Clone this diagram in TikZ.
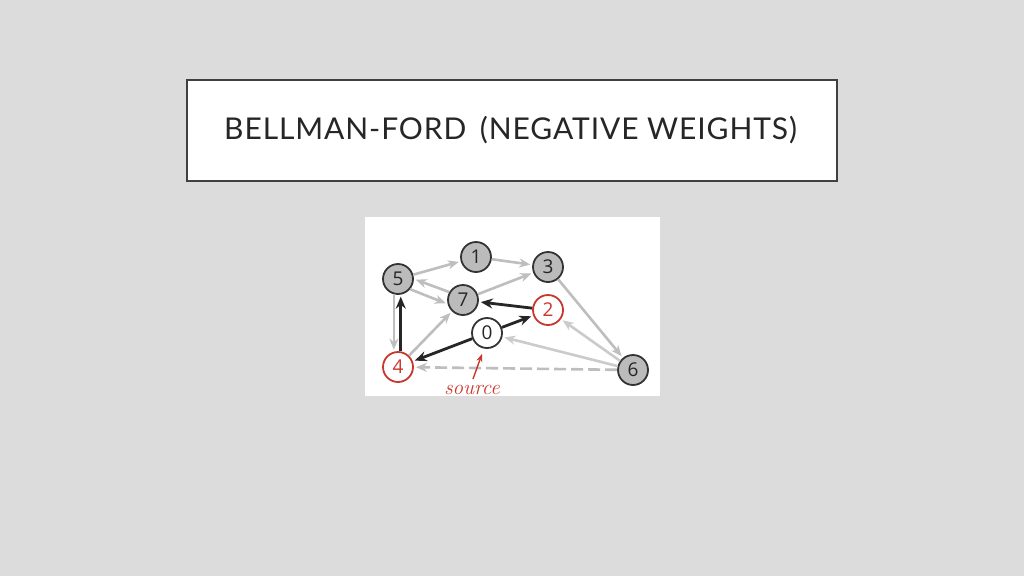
\documentclass[tikz,border=0pt]{standalone}
\usepackage{fontspec}
\setsansfont{Open Sans}
\newfontfamily\titlefont[LetterSpace=3]{Lato}
\usetikzlibrary{arrows.meta,
		calc}

\definecolor{slidebg}{HTML}{DCDCDC}
\definecolor{vertgray}{HTML}{BBBBBB}
\definecolor{edgegray}{HTML}{BEBEBE}
\definecolor{srcred}{HTML}{C9372C}

\tikzset{
  vert/.style={circle, draw=black!80, line width=1.8pt, fill=vertgray,
    minimum size=30pt, inner sep=0pt, font=\sffamily\fontsize{19}{19}\selectfont, text=black!85},
  srcvert/.style={vert, draw=srcred, fill=white, text=srcred},
  gedge/.style={draw=edgegray, line width=2.6pt, -{Stealth[length=11pt,width=9pt]}, shorten >=2pt},
  ledge/.style={gedge, draw=edgegray!80},
  dedge/.style={gedge, dash pattern=on 12pt off 5pt},
  tedge/.style={draw=black!85, line width=2.8pt, -{Stealth[length=12pt,width=10pt]}, shorten >=2pt}
}

\begin{document}
\begin{tikzpicture}[x=1pt, y=-1pt]

\fill [slidebg] (0,0) rectangle (1024,576);
\useasboundingbox (0,0) rectangle (1024,576);

% title
\draw [fill=white, draw=black!75, line width=2pt] (187,80) rectangle (837,181);
\node (title) at (510.5,130) {\titlefont\fontsize{30}{30}\selectfont\color{black!85}BELLMAN-FORD\hspace{0.45em}(NEGATIVE WEIGHTS)};

% picture panel
\fill [white] (365,217) rectangle (660,396);

\node [vert] (n5) at (398,279) {5};
\node [vert] (n1) at (476,257) {1};
\node [vert] (n3) at (548,267) {3};
\node [vert] (n7) at (463,300) {7};
\node [srcvert] (n2) at (548,310) {2};
\node [vert, fill=white] (n0) at (487,333) {0};
\node [srcvert] (n4) at (398,367) {4};
\node [vert] (n6) at (633,370) {6};

% gray edges
\draw [gedge] (n5) -- (n1);
\draw [gedge] (n1) -- (n3);
\draw [gedge] (n7) -- (n3);
\draw [gedge] (n7.150) -- (n5.0);
\draw [gedge] (n5.-40) -- (n7.195);
\draw [gedge] (n5.255) -- (n4.105);
\draw [gedge] (n4) -- (n7);
\draw [gedge] (n3) -- (n6);
\draw [ledge] (n6) -- (n2);
\draw [ledge] (n6) -- (n0);
\draw [dedge] (n6) -- (n4);

% shortest path tree
\draw [tedge] (n4.80) -- (n5.280);
\draw [tedge] (n0) -- (n4);
\draw [tedge] (n0) -- (n2);
\draw [tedge] (n2) -- (n7);

% source label
\node [text=srcred, font=\itshape\fontsize{21}{21}\selectfont, inner sep=0pt] (src) at (472,390) {source};
\draw [srcred, line width=1.4pt, -{Stealth[length=8pt,width=6pt]}] (473,379) coordinate (s) -- ($(n0.south)+(-5,5)$);

\end{tikzpicture}
\end{document}
